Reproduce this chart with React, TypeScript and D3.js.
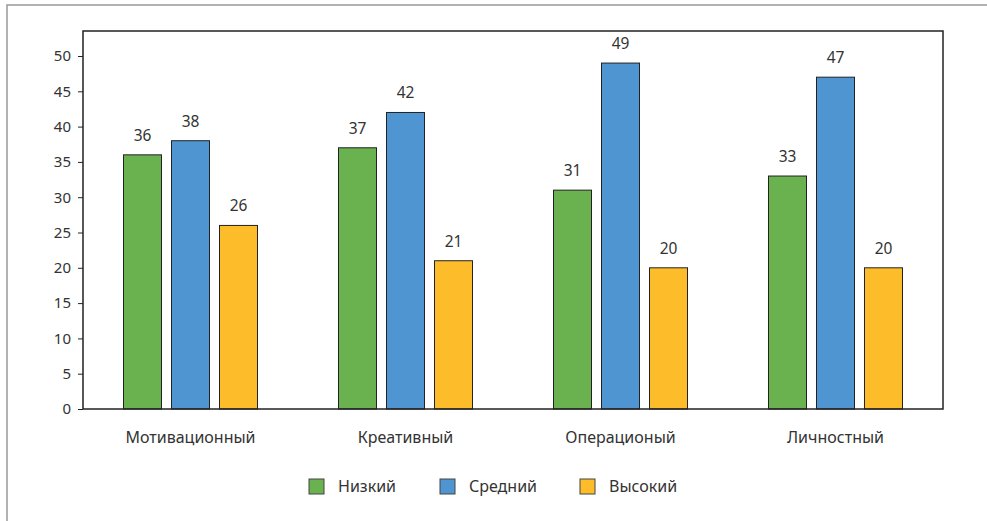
import React, { useEffect, useRef } from "react";
import * as d3 from "d3";

const categories = ["Мотивационный", "Креативный", "Операционый", "Личностный"];
const seriesNames = ["Низкий", "Средний", "Высокий"];
const lowValues = [36, 37, 31, 33];
const midValues = [38, 42, 49, 47];
const highValues = [26, 21, 20, 20];
const yTicks = [0, 5, 10, 15, 20, 25, 30, 35, 40, 45, 50];
const colors = ["#6ab150", "#4e95d2", "#fdbd2b"];

const W = 987;
const H = 521;
const FONT = "'Noto Sans', 'Open Sans', sans-serif";

const App: React.FC = () => {
  const svgRef = useRef<SVGSVGElement | null>(null);

  useEffect(() => {
    if (!svgRef.current) return;
    const svg = d3.select(svgRef.current);
    svg.selectAll("*").remove();

    const margin = { top: 31, right: 44, bottom: 112, left: 83 };
    const chartWidth = W - margin.left - margin.right;
    const chartHeight = H - margin.top - margin.bottom;

    // outer frame (cut off on right and bottom)
    svg
      .append("rect")
      .attr("x", 7)
      .attr("y", 5)
      .attr("width", W + 10)
      .attr("height", H + 10)
      .attr("fill", "#fff")
      .attr("stroke", "#999")
      .attr("stroke-width", 1.5);

    const g = svg
      .append("g")
      .attr("transform", `translate(${margin.left},${margin.top})`);

    const x0 = d3.scaleBand().domain(categories).range([0, chartWidth]);
    const x1 = d3
      .scaleBand()
      .domain(seriesNames)
      .range([-67, 67])
      .paddingInner(10 / 48);
    const y = d3.scaleLinear().domain([0, 50]).range([chartHeight, chartHeight - 353]);

    const series = [lowValues, midValues, highValues];

    // bars
    categories.forEach((cat, ci) => {
      const cx = (x0(cat) || 0) + x0.bandwidth() / 2;
      seriesNames.forEach((name, si) => {
        const v = series[si][ci];
        const bx = cx + (x1(name) || 0);
        g.append("rect")
          .attr("x", bx)
          .attr("y", y(v))
          .attr("width", x1.bandwidth())
          .attr("height", chartHeight - y(v))
          .attr("fill", colors[si])
          .attr("stroke", "#222")
          .attr("stroke-width", 1);
        g.append("text")
          .attr("x", bx + x1.bandwidth() / 2)
          .attr("y", y(v) - 14)
          .attr("text-anchor", "middle")
          .attr("font-family", FONT)
          .attr("font-size", 15.5)
          .attr("fill", "#333")
          .text(v);
      });
      g.append("text")
        .attr("x", cx)
        .attr("y", chartHeight + 34)
        .attr("text-anchor", "middle")
        .attr("font-family", FONT)
        .attr("font-size", 16)
        .attr("fill", "#333")
        .text(cat);
    });

    // plot frame
    g.append("rect")
      .attr("width", chartWidth)
      .attr("height", chartHeight)
      .attr("fill", "none")
      .attr("stroke", "#222")
      .attr("stroke-width", 1.5);

    // y axis
    g.append("g")
      .call(d3.axisLeft(y).tickValues(yTicks).tickSize(5).tickPadding(7))
      .call((a) => a.select(".domain").remove())
      .call((a) => a.selectAll(".tick line").attr("stroke", "#222"))
      .call((a) =>
        a
          .selectAll(".tick text")
          .attr("fill", "#333")
          .attr("font-family", FONT)
          .attr("font-size", 15),
      );

    // legend
    const legendX = [309, 440, 580];
    seriesNames.forEach((name, si) => {
      svg
        .append("rect")
        .attr("x", legendX[si])
        .attr("y", 479)
        .attr("width", 15)
        .attr("height", 15)
        .attr("fill", colors[si])
        .attr("stroke", "#444")
        .attr("stroke-width", 1);
      svg
        .append("text")
        .attr("x", legendX[si] + 29)
        .attr("y", 492)
        .attr("font-family", FONT)
        .attr("font-size", 16)
        .attr("fill", "#333")
        .text(name);
    });
  }, []);

  return (
    <svg
      ref={svgRef}
      width={W}
      height={H}
      style={{ position: "absolute", left: 0, top: 0, display: "block" }}
    />
  );
};

export default App;
